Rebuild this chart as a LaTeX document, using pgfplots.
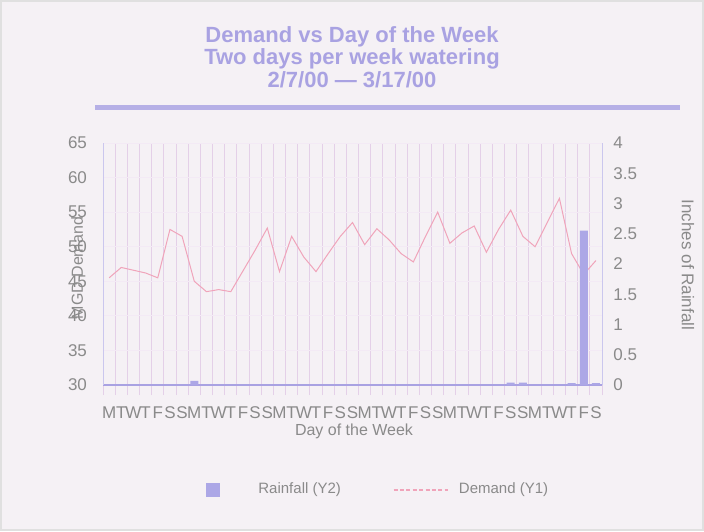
\documentclass[border=0pt]{standalone}
\usepackage{pgfplots}
\usepackage{pgfplotstable}
\pgfplotsset{compat=1.18}
\usepackage{fontspec}
\setmainfont{Liberation Sans}
\definecolor{lav}{HTML}{A9A2E2}
\definecolor{rainc}{HTML}{ACA7E6}
\definecolor{dem}{HTML}{F0A4BA}
\definecolor{gridc}{HTML}{E4D0E8}
\definecolor{txt}{HTML}{8A8A8A}
\definecolor{bg}{HTML}{F5F1F5}

% daily demand (MGD), 2/7/00 onwards
\pgfplotstableread{
day demand
0 45.5
1 47.0
2 46.6
3 46.2
4 45.5
5 52.5
6 51.5
7 45.0
8 43.5
9 43.8
10 43.5
11 46.5
12 49.5
13 52.7
14 46.4
15 51.5
16 48.5
17 46.4
18 49.0
19 51.5
20 53.5
21 50.3
22 52.6
23 51.0
24 49.0
25 47.8
26 51.5
27 55.0
28 50.5
29 52.0
30 53.0
31 49.2
32 52.5
33 55.3
34 51.5
35 50.0
36 53.5
37 57.0
38 49.0
39 46.0
40 48.0
}\demandtab

% rainfall (inches), days with rain only
\pgfplotstableread{
day rain
7 0.07
33 0.04
34 0.04
38 0.03
39 2.55
40 0.03
}\raintab

\pgfplotsset{
  chartbase/.style={
    at={(51.5pt,73pt)}, anchor=south west,
    scale only axis, width=249.5pt, height=121pt,
    xmin=-0.5, xmax=40.5,
    /pgf/number format/assume math mode=true,
    ticklabel style={font=\fontsize{8.5}{9}\selectfont, text=txt},
    label style={font=\fontsize{8}{9}\selectfont, text=txt},
  }
}

\begin{document}
\begin{tikzpicture}
\fill[bg] (0,0) rectangle (352pt,265.5pt);
\draw[black!12, line width=1pt] (0.5pt,0.5pt) rectangle (351.5pt,265pt);
\useasboundingbox (0,0) rectangle (352pt,265.5pt);

\node[font=\bfseries\fontsize{11}{10}\selectfont, text=lav, align=center]
  at (176pt,237pt) {Demand vs Day of the Week\\Two days per week watering\\2/7/00 --- 3/17/00};
\draw[lav!85, line width=2.5pt] (47.5pt,211.5pt) -- (340pt,211.5pt);

\begin{axis}[chartbase,
  ymin=30, ymax=65, ytick={30,35,...,65},
  xtick={0,...,40},
  xticklabels={M,T,W,T,F,S,S,M,T,W,T,F,S,S,M,T,W,T,F,S,S,M,T,W,T,F,S,S,M,T,W,T,F,S,S,M,T,W,T,F,S},
  minor xtick={-0.5,0.5,...,40.5},
  xminorgrids, ymajorgrids,
  minor grid style={draw=gridc, line width=0.5pt},
  major grid style={draw=gridc!45, line width=0.4pt},
  axis x line*=bottom, axis y line*=left,
  x axis line style={draw=lav, line width=1pt},
  y axis line style={draw=lav!60, line width=0.5pt},
  major tick length=0pt, minor tick length=5pt, tick align=outside,
  minor tick style={draw=gridc, line width=0.5pt},
  xticklabel style={yshift=-10.5pt, inner sep=0pt, anchor=north},
  yticklabel style={xshift=-4.5pt},
  xlabel={Day of the Week},
  xlabel style={at={(axis description cs:0.503,-0.19)}, anchor=center},
  ylabel={MGD Demand},
  ylabel style={at={(axis description cs:-0.052,0.483)}, anchor=center, rotate=0},
]
\addplot[dem, line width=0.5pt, mark=none] table[x=day, y=demand] {\demandtab};
\end{axis}

\begin{axis}[chartbase,
  ymin=0, ymax=4, ytick={0,0.5,...,4},
  axis x line=none, axis y line*=right,
  y axis line style={draw=lav!60, line width=0.5pt},
  major tick length=0pt,
  yticklabel style={xshift=2.2pt},
  ylabel={Inches of Rainfall},
  ylabel style={font=\fontsize{8.5}{9}\selectfont, at={(axis description cs:1.172,0.496)}, anchor=center, rotate=180},
  ybar, bar width=4pt,
  legend columns=2,
  legend style={at={(axis description cs:0.2064,-0.434)}, anchor=west,
    draw=none, fill=none, inner sep=0pt,
    font=\fontsize{7.5}{9}\selectfont, text=txt,
    nodes={inner sep=0pt},
    /tikz/every even column/.append style={column sep=26pt}},
]
\addplot[fill=rainc, draw=none,
  legend image code/.code={\fill[rainc] (0pt,-3.5pt) rectangle (7pt,3.5pt); \path (26pt,0pt);}]
  table[x=day, y=rain] {\raintab};
\addlegendentry{Rainfall (Y2)}
\addlegendimage{legend image code/.code={\draw[dem, line width=0.6pt, dash pattern=on 2pt off 1.2pt] (0pt,0pt) -- (27pt,0pt); \path (32.5pt,0pt);}}
\addlegendentry{Demand (Y1)}
\end{axis}
\end{tikzpicture}
\end{document}
